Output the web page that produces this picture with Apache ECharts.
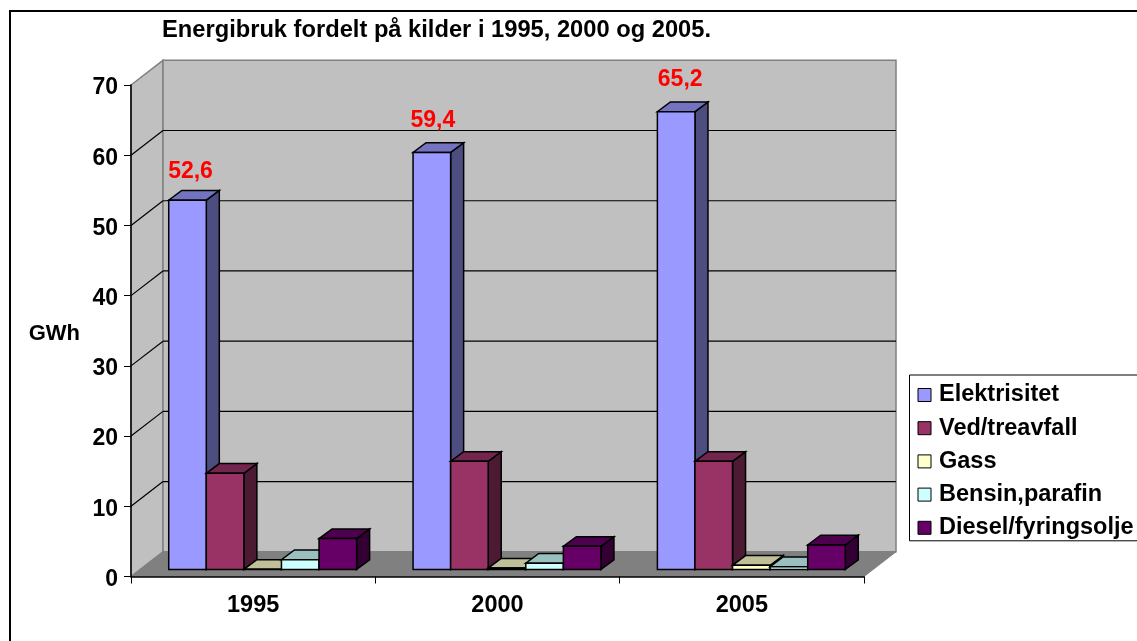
<!DOCTYPE html>
<html>
<head>
<meta charset="utf-8">
<style>html,body{margin:0;padding:0;background:#fff}#c{width:1137px;height:641px}</style>
<script src="https://cdn.jsdelivr.net/npm/echarts@6/dist/echarts.min.js"></script>
</head>
<body>
<div id="c"></div>
<script>
const years = ['1995', '2000', '2005'];
const yTicks = [0, 10, 20, 30, 40, 50, 60, 70];
const elektrisitet = [52.6, 59.4, 65.2];
const vedTreavfall = [13.7, 15.4, 15.4];
const gass = [0.02, 0.2, 0.6];
const bensinParafin = [1.4, 0.9, 0.4];
const dieselFyringsolje = [4.4, 3.3, 3.5];
const seriesNames = ['Elektrisitet', 'Ved/treavfall', 'Gass', 'Bensin,parafin', 'Diesel/fyringsolje'];
const seriesValues = [elektrisitet, vedTreavfall, gass, bensinParafin, dieselFyringsolje];
const seriesColors = ['#9999FF', '#993366', '#FFFFCC', '#CCFFFF', '#660066'];
const titleText = 'Energibruk fordelt på kilder i 1995, 2000 og 2005.';

const FONT = '"Liberation Sans", Arial, sans-serif';
const WALL_D = [32, -24.7];   // depth of the chart box
const BAR_D = [13, -9.7];     // depth of one bar
const PLANE_D = [9.5, -7];    // how far the bars stand in from the front edge
const BAR_FRAC = 0.1538;
const LABEL_NUDGE = [[3, -29], [1, -32], [4, -32]]; // the labels were hand-placed per year

function shade(hex, f) {
  const n = parseInt(hex.slice(1), 16);
  const c = [(n >> 16) & 255, (n >> 8) & 255, n & 255].map(v => Math.round(v * f));
  return 'rgb(' + c.join(',') + ')';
}
function poly(points, fill, stroke, lineWidth) {
  return { type: 'polygon', silent: true, shape: { points }, style: { fill, stroke, lineWidth } };
}
function seg(a, b, stroke, lineWidth) {
  return { type: 'line', silent: true, shape: { x1: a[0], y1: a[1], x2: b[0], y2: b[1] }, style: { stroke, lineWidth } };
}

function renderWalls(params, api) {
  const cs = params.coordSys;
  const xl = cs.x, xr = cs.x + cs.width;
  const y0 = api.coord([0, 0])[1], yT = api.coord([0, 70])[1];
  const [dx, dy] = WALL_D;
  const children = [
    poly([[xl, y0], [xl + dx, y0 + dy], [xl + dx, yT + dy], [xl, yT]], '#C0C0C0', '#808080', 1.5),
    poly([[xl + dx, y0 + dy], [xr + dx, y0 + dy], [xr + dx, yT + dy], [xl + dx, yT + dy]], '#C0C0C0', '#808080', 1.5),
    poly([[xl, y0], [xr, y0], [xr + dx, y0 + dy], [xl + dx, y0 + dy]], '#808080', '#808080', 1)
  ];
  yTicks.slice(1, -1).forEach(t => {
    const y = api.coord([0, t])[1];
    children.push(seg([xl, y], [xl + dx, y + dy], '#000', 1.2));
    children.push(seg([xl + dx, y + dy], [xr + dx, y + dy], '#000', 1.2));
  });
  return { type: 'group', children };
}

function makeBarRenderer(idx) {
  const color = seriesColors[idx];
  return function (params, api) {
    const cat = api.value(0), val = api.value(1);
    const base = api.coord([cat, 0]), top = api.coord([cat, val]);
    const w = api.size([1, 0])[0] * BAR_FRAC;
    const x1 = base[0] + PLANE_D[0] + (idx - 2.5) * w, x2 = x1 + w;
    const yb = base[1] + PLANE_D[1], yt = top[1] + PLANE_D[1];
    const [dx, dy] = BAR_D;
    const lw = 1.5;
    const children = [
      poly([[x2, yb], [x2 + dx, yb + dy], [x2 + dx, yt + dy], [x2, yt]], shade(color, 0.5), '#000', lw),
      poly([[x1, yt], [x2, yt], [x2 + dx, yt + dy], [x1 + dx, yt + dy]], shade(color, 0.75), '#000', lw),
      poly([[x1, yb], [x2, yb], [x2, yt], [x1, yt]], color, '#000', lw)
    ];
    if (idx === 0) {
      children.push({
        type: 'text', silent: true,
        style: {
          x: (x1 + x2) / 2 + LABEL_NUDGE[cat][0], y: yt + LABEL_NUDGE[cat][1],
          text: String(val).replace('.', ','),
          fill: '#FF0000', font: 'bold 23px ' + FONT, align: 'center', verticalAlign: 'middle'
        }
      });
    }
    return { type: 'group', children };
  };
}

const series = [{
  type: 'custom', name: 'walls', coordinateSystem: 'cartesian2d', silent: true, z: 1,
  renderItem: renderWalls, data: [[0, 0]], encode: { x: 0, y: 1 }
}];
seriesNames.forEach((name, i) => {
  series.push({
    type: 'custom', name, coordinateSystem: 'cartesian2d', z: 2 + i,
    itemStyle: { color: seriesColors[i] },
    renderItem: makeBarRenderer(i),
    data: seriesValues[i].map((v, c) => [c, v]),
    encode: { x: 0, y: 1 }
  });
});

const chart = echarts.init(document.getElementById('c'), null, { renderer: 'canvas' });
chart.setOption({
  animation: false,
  backgroundColor: '#fff',
  title: {
    text: titleText, left: 162, top: 18, padding: 0,
    textStyle: { fontFamily: FONT, fontWeight: 'bold', fontSize: 23.7, color: '#000' }
  },
  grid: { left: 131, right: 273, top: 85, bottom: 64.5, containLabel: false },
  xAxis: {
    type: 'category', data: years, boundaryGap: true,
    axisLine: { show: true, lineStyle: { color: '#000', width: 1.5 } },
    axisTick: { show: true, alignWithLabel: false, length: 7, lineStyle: { color: '#000', width: 1 } },
    axisLabel: { margin: 17, color: '#000', fontFamily: FONT, fontWeight: 'bold', fontSize: 23.5 },
    splitLine: { show: false }, z: 20
  },
  yAxis: {
    type: 'value', min: 0, max: 70, interval: 10,
    name: 'GWh', nameLocation: 'middle', nameRotate: 0, nameGap: 51,
    nameTextStyle: { color: '#000', fontFamily: FONT, fontWeight: 'bold', fontSize: 22, verticalAlign: 'top', lineHeight: 6 },
    axisLine: { show: true, lineStyle: { color: '#000', width: 1.5 } },
    axisTick: { show: true, length: 7, lineStyle: { color: '#000', width: 1 } },
    axisLabel: { margin: 13, color: '#000', fontFamily: FONT, fontWeight: 'bold', fontSize: 23, verticalAlign: 'top', lineHeight: 6 },
    splitLine: { show: false }, z: 20
  },
  legend: {
    data: seriesNames, orient: 'vertical', left: 909.5, top: 375,
    padding: [8, 40, 1, 8], itemWidth: 13, itemHeight: 13, itemGap: 9.2,
    borderColor: '#000', borderWidth: 1, backgroundColor: '#fff',
    icon: 'rect', selectedMode: false, inactiveColor: '#000',
    itemStyle: { borderColor: '#000', borderWidth: 1 },
    textStyle: { color: '#000', fontFamily: FONT, fontWeight: 'bold', fontSize: 23.5, padding: [0, 0, 0, 3] }
  },
  tooltip: { show: false },
  graphic: [{
    type: 'polyline', silent: true,
    shape: { points: [[10, 641], [10, 11], [1137, 11]] },
    style: { stroke: '#000', lineWidth: 2, fill: null }
  }],
  series
});
</script>
</body>
</html>
